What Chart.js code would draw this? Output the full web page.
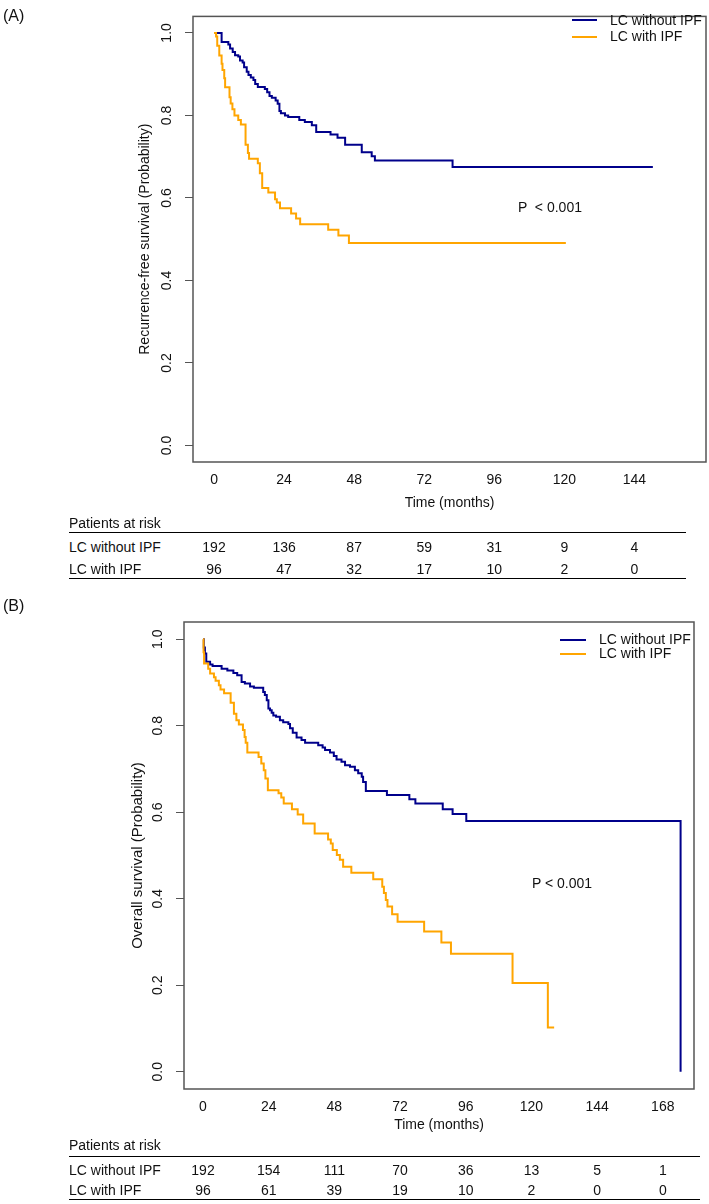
<!DOCTYPE html>
<html><head><meta charset="utf-8">
<script src="https://cdn.jsdelivr.net/npm/chart.js@4.4.1/dist/chart.umd.min.js"></script>
<style>
html,body{margin:0;padding:0;background:#fff;}
body{width:709px;height:1204px;position:relative;overflow:hidden;font-family:"Liberation Sans",Arial,Helvetica,sans-serif;color:#111;}
.t{position:absolute;white-space:pre;line-height:1;font-size:14px;}
.c{transform:translateX(-50%);}
.ln{position:absolute;height:0;}
canvas{position:absolute;left:0;}
</style></head><body>
<canvas id="cA" width="709" height="520" style="top:0"></canvas>
<canvas id="cB" width="709" height="540" style="top:600px"></canvas>
<script>
// ---------- Panel A: recurrence-free survival ----------
const rfsTimeNoIpf = [0,2.6,4.9,5.5,6.4,7.2,8.3,8.9,9.8,10.3,11.2,11.8,12.6,13.5,14.1,15.0,17.4,18.2,19.0,19.8,21.1,21.8,22.4,22.9,24.3,25.4,29.2,31.1,33.5,35.0,39.9,42.3,44.9,50.6,54.0,55.1,81.7,150.3];
const rfsSurvNoIpf = [1,0.978,0.972,0.962,0.954,0.946,0.943,0.933,0.928,0.917,0.906,0.898,0.892,0.886,0.876,0.869,0.864,0.856,0.847,0.843,0.836,0.828,0.811,0.805,0.800,0.796,0.789,0.784,0.776,0.760,0.754,0.746,0.729,0.711,0.701,0.691,0.675,0.675];
const rfsTimeIpf = [0,0.7,1.1,1.8,2.6,2.9,3.5,3.8,5.3,5.7,6.3,7.0,8.3,9.2,10.8,11.6,12.0,15.0,15.7,16.5,18.6,20.9,21.5,22.6,26.4,28.1,29.5,39.1,42.6,46.2,120.5];
const rfsSurvIpf = [1,0.991,0.969,0.945,0.925,0.910,0.890,0.868,0.844,0.829,0.815,0.800,0.789,0.778,0.729,0.709,0.695,0.684,0.660,0.624,0.613,0.597,0.589,0.575,0.562,0.550,0.536,0.523,0.509,0.491,0.491];
const xTicksA = [0,24,48,72,96,120,144];
const riskNoIpfA = [192,136,87,59,31,9,4];
const riskIpfA = [96,47,32,17,10,2,0];

// ---------- Panel B: overall survival ----------
const osTimeNoIpf = [0,0.3,0.7,1.2,2.6,3.5,6.8,8.9,11.1,12.5,14.1,15.3,17.2,18.6,22.0,22.6,23.3,23.9,24.5,25.1,25.7,26.7,28.1,29.3,31.2,31.8,32.8,34.2,36.0,37.3,42.1,43.7,44.6,46.4,47.8,48.8,50.6,51.9,53.7,55.5,56.7,58.0,58.5,59.5,67.2,75.4,77.6,87.6,91.2,96.2,174.5];
const osSurvNoIpf = [1,0.981,0.967,0.948,0.942,0.938,0.932,0.928,0.922,0.917,0.901,0.898,0.891,0.888,0.878,0.871,0.859,0.840,0.836,0.830,0.824,0.821,0.813,0.808,0.804,0.794,0.784,0.773,0.767,0.761,0.755,0.750,0.744,0.738,0.730,0.722,0.717,0.709,0.705,0.697,0.690,0.682,0.670,0.649,0.640,0.630,0.620,0.607,0.596,0.580,0];
const osTimeIpf = [0,0.2,0.4,1.9,2.6,4.0,4.6,5.8,6.4,7.7,10.1,11.3,12.2,13.1,14.6,15.2,15.6,16.2,20.3,21.3,22.2,22.8,23.7,27.6,28.6,29.5,32.5,34.6,36.6,40.8,45.7,46.7,47.4,48.9,50.0,51.2,54.2,62.2,65.5,66.1,66.8,67.4,69.1,71.1,80.8,87.1,90.6,113.1,126.0,128.3];
const osSurvIpf = [1,0.97,0.944,0.932,0.921,0.912,0.904,0.894,0.884,0.875,0.853,0.828,0.813,0.803,0.790,0.774,0.761,0.738,0.728,0.713,0.697,0.678,0.651,0.644,0.634,0.620,0.607,0.595,0.574,0.551,0.537,0.528,0.513,0.501,0.490,0.474,0.460,0.445,0.428,0.413,0.397,0.382,0.364,0.347,0.324,0.299,0.273,0.205,0.102,0.102];
const xTicksB = [0,24,48,72,96,120,144,168];
const riskNoIpfB = [192,154,111,70,36,13,5,1];
const riskIpfB = [96,61,39,19,10,2,0,0];

const yTicks = [0,0.2,0.4,0.6,0.8,1.0];
const seriesNames = ["LC without IPF","LC with IPF"];
const colNoIpf = "#00008B", colIpf = "#FFA500";
const FONT = '"Liberation Sans", Arial, Helvetica, sans-serif';

const toXY = (ts, vs) => ts.map((t,i)=>({x:t,y:vs[i]}));

const boxPlugin = {id:'box', afterDatasetsDraw(chart){
  const {ctx, chartArea:a} = chart;
  ctx.save(); ctx.strokeStyle='#555'; ctx.lineWidth=1.5;
  ctx.strokeRect(a.left,a.top,a.right-a.left,a.bottom-a.top); ctx.restore();
}};

function makeChart(id, o){
  return new Chart(document.getElementById(id), {
    type:'line',
    data:{datasets:[
      {label:seriesNames[0], data:toXY(o.t1,o.v1), borderColor:colNoIpf, borderWidth:2, pointRadius:0, stepped:'before', fill:false, order:2, borderJoinStyle:'miter'},
      {label:seriesNames[1], data:toXY(o.t2,o.v2), borderColor:colIpf, borderWidth:2, pointRadius:0, stepped:'before', fill:false, order:1, borderJoinStyle:'miter'}
    ]},
    options:{
      responsive:false, animation:false, devicePixelRatio:1,
      layout:{padding:o.pad},
      plugins:{legend:{display:false}, tooltip:{enabled:false}},
      scales:{
        x:{type:'linear', min:o.xmin, max:o.xmax,
           afterBuildTicks:s=>{s.ticks=o.xt.map(v=>({value:v}));},
           afterFit:s=>{s.height=o.xh;},
           grid:{display:false, drawTicks:false}, border:{display:false},
           ticks:{font:{family:FONT,size:14}, color:'#111', padding:o.xtp, maxRotation:0, autoSkip:false, callback:v=>String(v)},
           title:{display:true, text:'Time (months)', font:{family:FONT,size:14}, color:'#111', padding:{top:0,bottom:o.xtb}}
        },
        y:{type:'linear', min:-0.04, max:1.04,
           afterBuildTicks:s=>{s.ticks=yTicks.map(v=>({value:v}));},
           afterFit:s=>{s.width=o.yw;},
           grid:{display:true, drawOnChartArea:false, drawTicks:true, tickLength:8, color:'#555', lineWidth:1}, border:{display:false},
           ticks:{font:{family:FONT,size:14}, color:'#111', padding:o.ytp, minRotation:90, maxRotation:90, crossAlign:'center', autoSkip:false, callback:v=>v.toFixed(1)},
           title:{display:true, text:o.ytitle, font:{family:FONT,size:o.yts}, color:'#111', padding:{top:o.ytt,bottom:0}}
        }
      }
    },
    plugins:[boxPlugin]
  });
}

const chartA = makeChart('cA', {t1:rfsTimeNoIpf,v1:rfsSurvNoIpf,t2:rfsTimeIpf,v2:rfsSurvIpf,
  xmin:-7.2, xmax:168.5, xt:xTicksA, pad:{top:3,left:0,right:3,bottom:0}, xh:58, yw:193, xtp:10, xtb:8.6, ytp:8, ytt:136.6, yts:14,
  ytitle:'Recurrence-free survival (Probability)'});
const chartB = makeChart('cB', {t1:osTimeNoIpf,v1:osSurvNoIpf,t2:osTimeIpf,v2:osSurvIpf,
  xmin:-6.94, xmax:179.4, xt:xTicksB, pad:{top:22,left:0,right:15,bottom:0}, xh:51, yw:184, xtp:10, xtb:6.6, ytp:8, ytt:129, yts:15,
  ytitle:'Overall survival (Probability)'});

function txt(s, left, cy, extra){
  const d=document.createElement('div'); d.className='t'+(extra&&extra.center?' c':'');
  d.textContent=s; d.style.left=left+'px'; d.style.top=(cy-7)+'px';
  if(extra&&extra.size){d.style.fontSize=extra.size+'px'; d.style.top=(cy-extra.size/2)+'px';}
  document.body.appendChild(d); return d;
}
function hline(x1,x2,y,color,w){
  const d=document.createElement('div'); d.className='ln';
  d.style.left=x1+'px'; d.style.width=(x2-x1)+'px'; d.style.top=(y-w/2)+'px';
  d.style.borderTop=w+'px solid '+color; document.body.appendChild(d);
}

// panel labels
txt('(A)',3,16,{size:16});
txt('(B)',3,606,{size:16});

// legends
hline(572,597,20,colNoIpf,2); hline(572,597,36.5,colIpf,2);
txt(seriesNames[0],610,19.5); txt(seriesNames[1],610,35.5);
hline(560,586,640,colNoIpf,2); hline(560,586,654.3,colIpf,2);
txt(seriesNames[0],599,638.5); txt(seriesNames[1],599,653);

// p-values
txt('P  < 0.001',518,207);
txt('P < 0.001',532,883);

// risk tables
function riskTable(chart, times, r1, r2, g){
  const sx = chart.scales.x;
  txt('Patients at risk', g.left, g.par);
  hline(g.left, g.right, g.l1, '#000', 1.5);
  txt(seriesNames[0], g.left, g.r1); txt(seriesNames[1], g.left, g.r2);
  times.forEach((t,i)=>{
    const x = sx.getPixelForValue(t);
    txt(String(r1[i]), x, g.r1, {center:true});
    txt(String(r2[i]), x, g.r2, {center:true});
  });
  hline(g.left, g.right, g.l2, '#000', 1.5);
}
riskTable(chartA, xTicksA, riskNoIpfA, riskIpfA, {left:69,right:686,par:523,l1:533,r1:547,r2:569,l2:579});
riskTable(chartB, xTicksB, riskNoIpfB, riskIpfB, {left:69,right:700,par:1145,l1:1157,r1:1170,r2:1190,l2:1200});
</script>
</body></html>
